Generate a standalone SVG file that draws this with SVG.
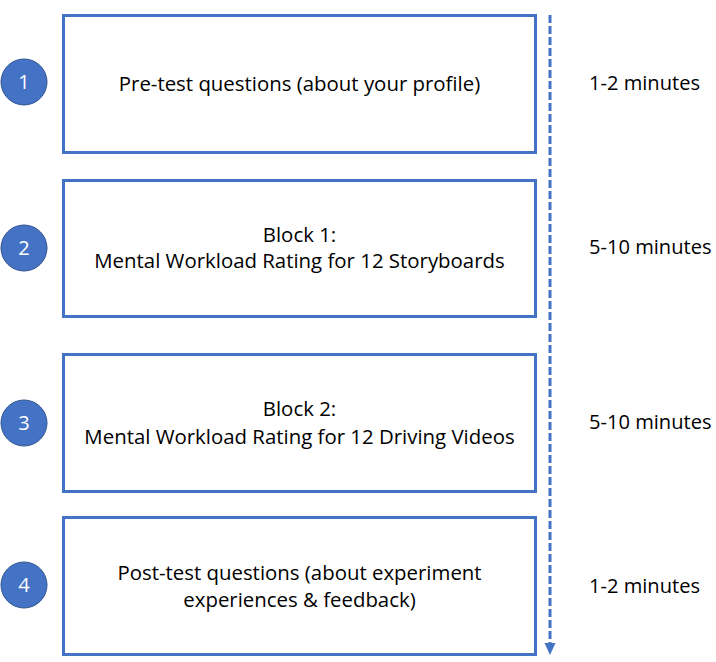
<svg xmlns="http://www.w3.org/2000/svg" width="716" height="662" viewBox="0 0 716 662">
  <style>
    .box { fill: #ffffff; stroke: #4472C4; stroke-width: 3; }
    .num { fill: #4472C4; stroke: #2F528F; stroke-width: 1; }
    .numtxt { font-family: "Open Sans", "Liberation Sans", sans-serif; font-size: 20px; fill: #ffffff; text-anchor: middle; }
    .lbl { font-family: "Open Sans", "Liberation Sans", sans-serif; font-size: 20.4px; fill: #000000; text-anchor: middle; }
    .time { font-family: "Open Sans", "Liberation Sans", sans-serif; font-size: 20.1px; fill: #000000; }
    .timeline { stroke: #4472C4; stroke-width: 3; stroke-dasharray: 8 3; fill: none; }
  </style>
  <rect width="716" height="662" fill="#ffffff"/>

  <!-- dashed time axis with arrowhead -->
  <g id="connectors">
    <line class="timeline" x1="550" y1="15" x2="550" y2="644"/>
    <path d="M544.5,643 L555.5,643 L550,655 Z" fill="#4472C4"/>
  </g>

  <g id="step1">
    <rect class="box" x="63.5" y="15.5" width="472" height="137"/>
    <circle class="num" cx="24" cy="82" r="23"/>
    <text class="numtxt" x="24" y="89">1</text>
    <text class="lbl" x="299.5" y="91">Pre-test questions (about your profile)</text>
    <text class="time" x="589" y="90">1-2 minutes</text>
  </g>

  <g id="step2">
    <rect class="box" x="63.5" y="180.5" width="472" height="136"/>
    <circle class="num" cx="24" cy="248" r="23"/>
    <text class="numtxt" x="24" y="255">2</text>
    <text class="lbl" x="299.5" y="242">Block 1:</text>
    <text class="lbl" x="299.5" y="268">Mental Workload Rating for 12 Storyboards</text>
    <text class="time" x="589" y="254">5-10 minutes</text>
  </g>

  <g id="step3">
    <rect class="box" x="63.5" y="354.5" width="472" height="137"/>
    <circle class="num" cx="24" cy="423" r="23"/>
    <text class="numtxt" x="24" y="430">3</text>
    <text class="lbl" x="299.5" y="416">Block 2:</text>
    <text class="lbl" x="299.5" y="444">Mental Workload Rating for 12 Driving Videos</text>
    <text class="time" x="589" y="429">5-10 minutes</text>
  </g>

  <g id="step4">
    <rect class="box" x="63.5" y="517.5" width="472" height="137"/>
    <circle class="num" cx="24" cy="585" r="23"/>
    <text class="numtxt" x="24" y="592">4</text>
    <text class="lbl" x="299.5" y="580">Post-test questions (about experiment</text>
    <text class="lbl" x="299.5" y="607">experiences &amp; feedback)</text>
    <text class="time" x="589" y="593">1-2 minutes</text>
  </g>
</svg>
